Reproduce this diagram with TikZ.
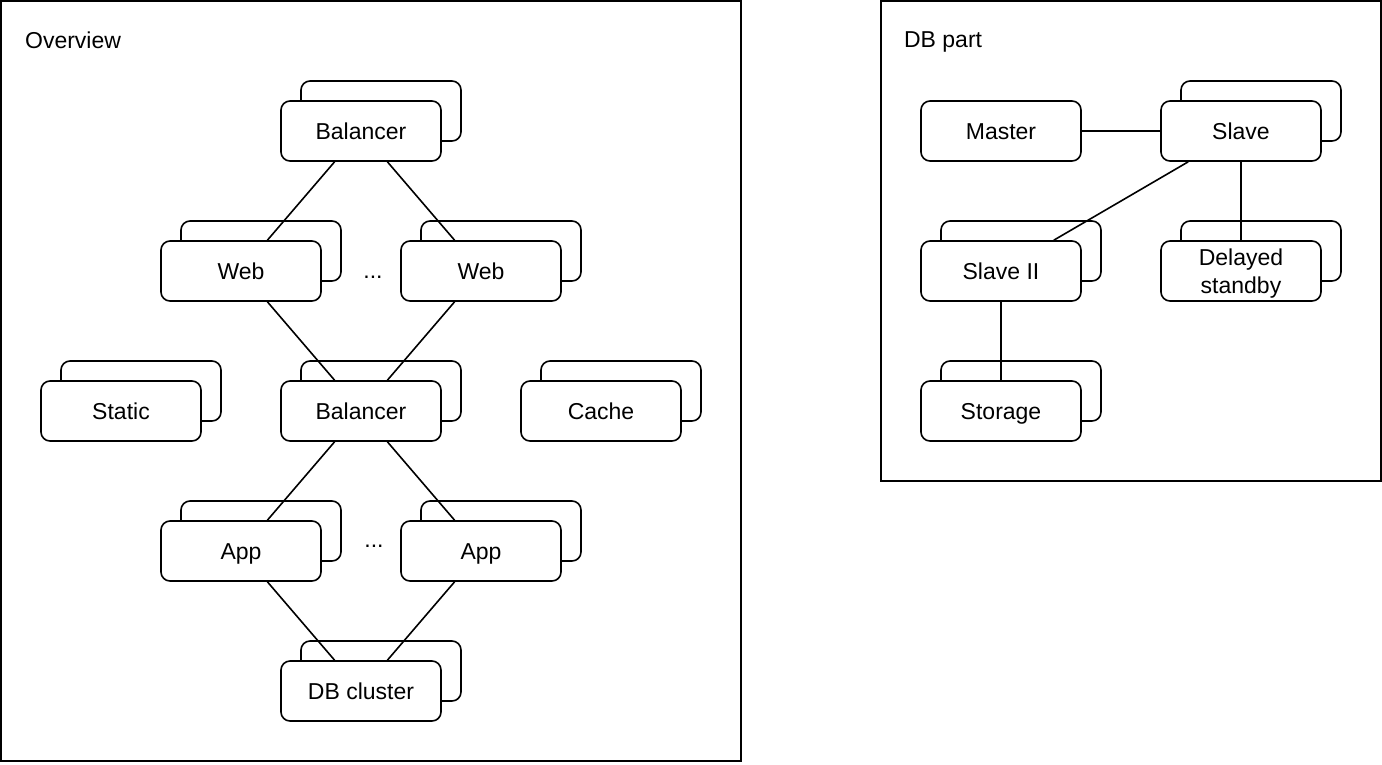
\documentclass[tikz,border=0pt]{standalone}
\usepackage{fontspec}
\setmainfont{Liberation Sans}
\usetikzlibrary{shadows}

\begin{document}
\begin{tikzpicture}[x=1pt,y=-1pt,line width=1.6pt,
  every node/.append style={font=\fontsize{23}{27.5}\selectfont,text height=16.5pt,text depth=0pt},
  box/.style={draw,rounded corners=9pt,fill=white,minimum width=160pt,minimum height=60pt,align=center},
  stack/.style={box,copy shadow={shadow xshift=20pt,shadow yshift=20pt,draw,fill=white,line width=1.6pt}}]
\useasboundingbox (0,0) rectangle (1382,764);
\draw (1,1) rectangle (741,761);
\draw (881,1) rectangle (1381,481);
\node [anchor=west] (ov) at (21,40) {Overview};
\node [anchor=west] (dbp) at (900,39) {DB part};

\node [stack] (bal) at (361,131) {Balancer};
\node [stack] (webl) at (241,271) {Web};
\node [stack] (webr) at (481,271) {Web};
\node (dw) at (373,270) {...};
\node [stack] (stat) at (121,411) {Static};
\node [stack] (bal2) at (361,411) {Balancer};
\node [stack] (cache) at (601,411) {Cache};
\node [stack] (appl) at (241,551) {App};
\node [stack] (appr) at (481,551) {App};
\node (da) at (374,539) {...};
\node [stack] (db) at (361,691) {DB cluster};

\node [box] (master) at (1001,131) {Master};
\node [stack] (slave) at (1241,131) {Slave};
\node [stack] (slave2) at (1001,271) {Slave II};
\node [stack,text height={}] (delay) at (1241,271) {Delayed\\standby};
\node [stack] (store) at (1001,411) {Storage};

\draw (bal) -- (webl);
\draw (bal) -- (webr);
\draw (webl) -- (bal2);
\draw (webr) -- (bal2);
\draw (bal2) -- (appl);
\draw (bal2) -- (appr);
\draw (appl) -- (db);
\draw (appr) -- (db);
\draw (master) -- (slave);
\draw (slave) -- (slave2);
\draw (slave) -- (delay);
\draw (slave2) -- (store);
\end{tikzpicture}
\end{document}
